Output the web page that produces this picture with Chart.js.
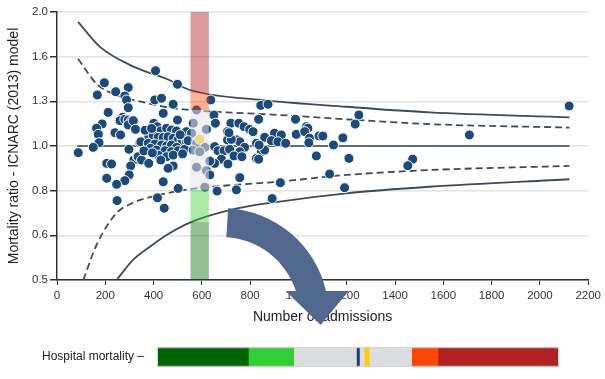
<!DOCTYPE html>
<html>
<head>
<meta charset="utf-8">
<script src="https://cdn.jsdelivr.net/npm/chart.js@4.4.1/dist/chart.umd.min.js"></script>
<style>
  body { margin: 0; background: #fff; }
  #wrap { position: relative; width: 605px; height: 379px; }
  #funnel { position: absolute; left: 0; top: 0; }
  #strip { position: absolute; left: 0; top: 335px; }
</style>
</head>
<body>
<div id="wrap">
  <canvas id="funnel" width="605" height="335"></canvas>
  <canvas id="strip" width="605" height="44"></canvas>
</div>
<script>
// hospitals: number of admissions and mortality ratio
const admissions = [196,167,243,295,281,288,295,212,272,261,281,295,309,187,164,171,240,263,295,327,
  174,150,88,298,343,206,226,318,305,334,299,206,281,247,249,408,499,405,433,481,
  440,499,316,325,401,415,429,454,474,495,536,380,398,419,440,460,481,502,518,347,
  378,405,433,454,474,495,536,387,412,447,474,502,529,419,454,481,336,350,380,481,
  460,440,502,416,444,365,392,360,430,395,510,520,637,578,650,656,564,619,720,753,
  775,798,812,706,844,557,543,578,612,564,591,653,667,692,715,746,757,777,757,733,
  766,706,826,846,826,681,653,633,708,578,619,633,757,612,663,743,722,712,874,988,
  835,1033,1039,991,1026,901,929,860,888,915,947,1046,1043,1085,1101,1184,1145,860,835,1074,
  1209,1129,925,1191,891,1250,1235,837,1708,1473,1453,2121];
const ratios = [1.387,1.302,1.324,1.353,1.295,1.269,1.219,1.19,1.16,1.14,1.148,1.144,1.14,1.121,1.096,1.062,1.071,1.059,1.115,1.09,
  1.017,0.993,0.966,0.983,1.017,0.914,0.911,0.93,0.902,0.946,0.861,0.846,0.836,0.82,0.754,1.476,1.376,1.269,1.28,1.241,
  1.184,1.144,1.14,1.09,1.125,1.105,1.081,1.096,1.086,1.081,1.077,1.053,1.059,1.046,1.046,1.049,1.041,1.035,1.028,1.022,
  1.014,1.01,1.005,1.0,1.005,0.993,1.022,0.988,0.979,0.976,0.971,0.976,0.983,0.954,0.946,0.954,0.946,0.93,0.914,0.902,
  0.891,0.831,0.803,0.765,0.725,1.085,1.095,0.975,0.93,0.965,1.06,0.96,1.269,1.205,1.174,1.125,1.125,1.09,1.125,1.125,
  1.105,1.09,1.077,1.077,1.234,1.068,1.028,1.014,0.993,0.979,0.971,0.997,0.976,0.976,0.983,1.032,1.022,0.993,0.971,0.95,
  0.946,1.032,1.014,0.971,0.938,0.934,0.914,0.925,0.911,0.896,0.88,0.861,0.849,0.808,0.792,0.797,1.035,1.071,1.241,1.148,
  1.148,1.105,1.096,1.062,1.077,1.068,1.059,1.046,1.028,1.022,1.014,1.041,1.017,1.053,1.053,1.043,1.005,0.979,0.934,0.95,
  0.938,0.865,0.827,0.806,0.762,1.174,1.12,1.005,1.059,0.934,0.903,1.23];

// the highlighted hospital
const ownAdmissions = [591];
const ownRatio = [1.035];

// control limits
const upper998N = [87, 178, 314, 455, 550, 852, 1198, 1543, 2122];
const upper998 = [1.90, 1.67, 1.51, 1.414, 1.336, 1.268, 1.225, 1.19, 1.16];
const upper95N = [87, 164, 247, 343, 454, 550, 922, 1543, 2122];
const upper95 = [1.57, 1.38, 1.30, 1.26, 1.222, 1.205, 1.174, 1.12, 1.10];
const lower95N = [109, 164, 247, 314, 454, 550, 922, 1198, 1543, 2122];
const lower95 = [0.5, 0.6, 0.707, 0.745, 0.783, 0.80, 0.832, 0.861, 0.883, 0.902];
const lower998N = [247, 314, 385, 454, 550, 715, 922, 1198, 1543, 2122];
const lower998 = [0.5, 0.554, 0.594, 0.631, 0.673, 0.718, 0.75, 0.783, 0.81, 0.842];
const targetN = [84, 2122];
const target = [1.0, 1.0];

// axis ticks
const yTickValues = [0.5, 0.63, 0.794, 1.0, 1.26, 1.587, 2.0];
const yTickLabels = ['0.5', '0.6', '0.8', '1.0', '1.3', '1.6', '2.0'];

// shaded band around the hospital
const bandRange = [553, 629];
const bandEdges = [0.5, 0.675, 0.797, 1.205, 1.315, 2.0];
const bandColors = ['rgba(0,100,0,0.42)', 'rgba(50,205,50,0.42)', 'rgba(228,228,228,0.55)',
  'rgba(255,69,0,0.42)', 'rgba(178,34,34,0.45)'];

// hospital mortality strip
const stripLabel = ['Hospital mortality \u2013'];
const stripWidths = [22.74, 11.27, 15.6, 0.75, 1.19, 1.24, 10.55, 6.54, 30.17];
const stripColors = ['#006400', '#32cd32', '#dcdde0', '#1a3f73', '#dcdde0', '#ffcc00', '#dcdde0', '#ff4500', '#b22222'];

const FONT = "'Liberation Sans', Arial, sans-serif";
const lineColor = '#3f4b57';

function pairs(xs, ys) {
  return xs.map((v, i) => ({ x: v, y: ys[i] }));
}

function limitLine(xs, ys, dashed) {
  return {
    type: 'line',
    data: pairs(xs, ys),
    borderColor: lineColor,
    borderWidth: 1.8,
    borderDash: dashed ? [7, 4] : [],
    pointRadius: 0,
    cubicInterpolationMode: 'monotone',
    fill: false,
    order: 3
  };
}

const bandPlugin = {
  id: 'band',
  afterDatasetsDraw(chart) {
    const { ctx, scales: { x, y } } = chart;
    const left = x.getPixelForValue(bandRange[0]);
    const right = x.getPixelForValue(bandRange[1]);
    ctx.save();
    for (let i = 0; i < bandColors.length; i++) {
      const top = y.getPixelForValue(bandEdges[i + 1]);
      const bottom = y.getPixelForValue(bandEdges[i]);
      ctx.fillStyle = bandColors[i];
      ctx.fillRect(left, top, right - left, bottom - top);
    }
    ctx.restore();
  }
};

// big curved arrow pointing down to the strip
const arrowPlugin = {
  id: 'arrow',
  afterDraw(chart) {
    const { ctx, chartArea } = chart;
    const cx = chart.scales.x.getPixelForValue(682);
    const cy = chartArea.bottom + 35;
    const rOut = 107, rIn = 78;
    const endY = -24;
    const a0 = -Math.PI / 2 + 0.06;
    const aOut = Math.asin(endY / rOut);
    const aIn = Math.asin(endY / rIn);
    ctx.save();
    ctx.fillStyle = '#53688f';
    ctx.beginPath();
    ctx.arc(cx, cy, rOut, a0, aOut);
    ctx.lineTo(cx + 127, cy + endY);
    ctx.lineTo(cx + 99, cy + 10);
    ctx.lineTo(cx + 64, cy + endY);
    ctx.arc(cx, cy, rIn, aIn, a0, true);
    ctx.closePath();
    ctx.fill();
    ctx.restore();
  }
};

new Chart(document.getElementById('funnel'), {
  type: 'scatter',
  data: {
    datasets: [
      {
        data: pairs(ownAdmissions, ownRatio),
        backgroundColor: '#ffcc00',
        borderColor: '#ffffff',
        borderWidth: 1,
        pointRadius: 5,
        order: 1
      },
      {
        data: pairs(admissions, ratios),
        backgroundColor: '#1b4a7d',
        borderColor: '#ffffff',
        borderWidth: 1,
        pointRadius: 5,
        order: 2
      },
      {
        type: 'line',
        data: pairs(targetN, target),
        borderColor: '#5f6b75',
        borderWidth: 2.2,
        pointRadius: 0,
        order: 3
      },
      limitLine(upper998N, upper998, false),
      limitLine(upper95N, upper95, true),
      limitLine(lower95N, lower95, true),
      limitLine(lower998N, lower998, false)
    ]
  },
  options: {
    responsive: false,
    animation: false,
    layout: { padding: { top: 12, right: 16, bottom: 0, left: 0 } },
    plugins: { legend: { display: false }, tooltip: { enabled: false } },
    scales: {
      x: {
        type: 'linear',
        min: 0,
        max: 2200,
        afterFit: s => { s.height = 55; },
        border: { color: '#333', width: 1.5 },
        grid: { drawOnChartArea: false, tickColor: '#333', tickLength: 5 },
        ticks: {
          stepSize: 200,
          color: '#333',
          padding: 4,
          font: { family: FONT, size: 11.5 },
          callback: v => String(v)
        },
        title: {
          display: true,
          text: 'Number of admissions',
          color: '#222',
          padding: { top: 0, bottom: 9 },
          font: { family: FONT, size: 14 }
        }
      },
      y: {
        type: 'logarithmic',
        min: 0.5,
        max: 2,
        afterFit: s => { s.width = 57; },
        afterBuildTicks: s => { s.ticks = yTickValues.map(v => ({ value: v })); },
        border: { color: '#333', width: 1.5 },
        grid: { color: '#e2e2e2', lineWidth: 1.5, tickColor: '#333', tickLength: 7 },
        ticks: {
          color: '#333',
          padding: 2,
          font: { family: FONT, size: 11.5 },
          callback: (v, i) => yTickLabels[i]
        },
        title: {
          display: true,
          text: 'Mortality ratio - ICNARC (2013) model',
          color: '#222',
          padding: { top: 6, bottom: 0 },
          font: { family: FONT, size: 14 }
        }
      }
    }
  },
  plugins: [bandPlugin, arrowPlugin]
});

const stripFrame = {
  id: 'stripFrame',
  afterDatasetsDraw(chart) {
    const { ctx, chartArea: a } = chart;
    ctx.save();
    ctx.strokeStyle = '#d4d4d4';
    ctx.lineWidth = 1;
    ctx.strokeRect(a.left + 0.5, a.top + 0.5, a.right - a.left - 1, a.bottom - a.top - 1);
    ctx.restore();
  }
};

new Chart(document.getElementById('strip'), {
  type: 'bar',
  data: {
    labels: stripLabel,
    datasets: stripWidths.map((w, i) => ({
      data: [w],
      backgroundColor: stripColors[i],
      borderWidth: 0,
      barPercentage: 1,
      categoryPercentage: 1
    }))
  },
  options: {
    indexAxis: 'y',
    responsive: false,
    animation: false,
    layout: { padding: { top: 8, right: 46, bottom: 7, left: 0 } },
    plugins: { legend: { display: false }, tooltip: { enabled: false } },
    scales: {
      x: { stacked: true, min: 0, max: 100, display: false },
      y: {
        stacked: true,
        afterFit: s => { s.width = 157; },
        border: { display: false },
        grid: { display: false },
        ticks: { color: '#222', padding: 5, font: { family: FONT, size: 12 } }
      }
    }
  },
  plugins: [stripFrame]
});
</script>
</body>
</html>
